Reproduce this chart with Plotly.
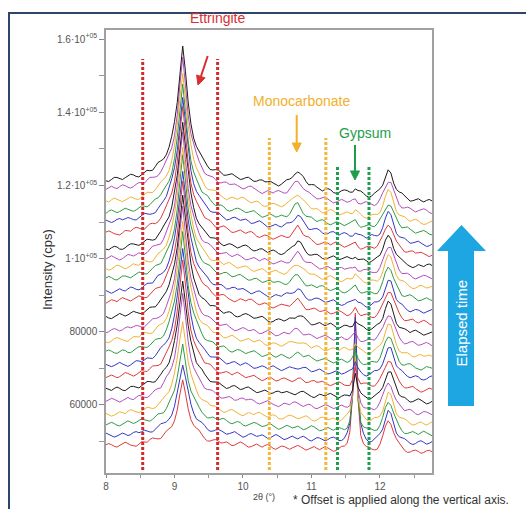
import numpy as np
import plotly.graph_objects as go

# ---------------- data ----------------
X_START, X_STEP, N_PTS = 8.0, 0.04, 120
two_theta = np.round(X_START + X_STEP * np.arange(N_PTS), 3)

# baseline of each pattern at the left edge (bottom = earliest)
BASELINES = [48770, 51510, 54520, 57260, 60820, 63840, 67400, 70410, 73970, 77260,
             80000, 83840, 87950, 90680, 94250, 96990, 99730, 102470, 106580, 109860,
             112330, 115340, 118900, 121370]
# absolute top of the ettringite peak for each pattern
ETT_TOPS = [66300, 71000, 76500, 83000, 90000, 94500, 99000, 103000, 107000, 110500,
            114000, 117500, 121000, 124500, 128000, 131000, 134500, 137500, 141000, 144000,
            147500, 151000, 154500, 157800]
MONO_AMP = [0, 0, 0, 0, 200, 400, 700, 900, 1200, 1400, 1700, 1900, 2200, 2500, 2700, 3000,
            3200, 3400, 3700, 3900, 4100, 4300, 4500, 4700]
GYP_AMP = [37000, 34000, 23000, 18000, 12000, 7000, 4500, 3000, 2500, 2200, 2000, 1800,
           1600, 1500, 1500, 1400, 1300, 1300, 1200, 1200, 1200, 1100, 1100, 1300]
P12_AMP = [8200, 8000, 8300, 8000, 7800, 8100, 7900, 8000, 7700, 7900, 7800, 7600,
           7800, 7500, 7700, 7600, 7400, 7600, 7300, 7500, 7200, 7400, 7100, 7200]
RIGHT_DROP = [1640, 1920, 2470, 2470, 3010, 3010, 3290, 3010, 3840, 4110, 3560, 4380,
              5480, 5210, 5480, 4930, 4930, 4660, 5480, 6030, 5210, 5480, 6030, 5750]

# peak profiles (relative height vs grid step from centre)
ETT_CENTER = 28     # 9.12 deg
ETT_HALF = [1.00, 0.80, 0.58, 0.43, 0.33, 0.26, 0.21, 0.17, 0.14, 0.12, 0.10, 0.085,
            0.073, 0.063, 0.055, 0.048, 0.042, 0.037, 0.033, 0.029, 0.026, 0.023, 0.020,
            0.018, 0.016, 0.014, 0.012, 0.010, 0.008, 0.006, 0.005, 0.004, 0.003, 0.002,
            0.001, 0.0]
MONO_CENTER = 70    # 10.80 deg
MONO_HALF = [1.0, 0.82, 0.55, 0.33, 0.19, 0.11, 0.06, 0.03, 0.01]
GYP_CENTER = 91     # 11.64 deg
GYP_HALF = [1.0, 0.38, 0.12, 0.05, 0.02, 0.01]
P12_START = 97      # 11.88 deg
P12_PROFILE = [0.03, 0.06, 0.12, 0.24, 0.45, 0.75, 0.98, 0.92, 0.62, 0.36, 0.20, 0.11,
               0.06, 0.035, 0.02, 0.01]
DRIFT_TAIL = [-0.01, -0.02, -0.04, -0.05, -0.07, -0.08, -0.10, -0.11, -0.13, -0.14, -0.16,
              -0.17, -0.19, -0.20, -0.22, -0.23, -0.25, -0.26, -0.28, -0.29, -0.31, -0.32,
              -0.34, -0.35, -0.37, -0.38, -0.40, -0.41, -0.43, -0.44, -0.46, -0.47, -0.49,
              -0.50, -0.52, -0.53, -0.55, -0.56, -0.58, -0.59, -0.61, -0.62, -0.64, -0.65,
              -0.67, -0.68, -0.70, -0.71, -0.73, -0.74, -0.76, -0.77, -0.79, -0.80, -0.82,
              -0.83, -0.85, -0.86, -0.88, -0.89, -0.91, -0.92, -0.94, -0.95, -0.97, -0.98,
              -0.99, -1.00, -1.00]
NOISE = [0.3, 0.6, 0.2, -0.4, -0.7, -0.2, 0.5, 0.8, 0.3, -0.3,
         -0.6, -0.9, -0.3, 0.4, 0.2, -0.1, 0.6, 0.9, 0.4, -0.2,
         -0.5, 0.1, 0.5, 0.2, -0.6, -0.8, -0.4, 0.3, 0.7, 0.5,
         0.0, -0.4, -0.1, 0.4, 0.8, 0.2, -0.5, -0.9, -0.5, 0.2,
         0.6, 0.3, -0.2, 0.1, 0.5, 0.0, -0.6, -0.3, 0.4, 0.9,
         0.5, -0.1, -0.7, -0.4, 0.2, 0.6, 0.1, -0.3, 0.3, 0.7,
         0.2, -0.5, -0.8, -0.2, 0.4, 0.3, -0.2, -0.6, -0.1, 0.5,
         0.8, 0.4, -0.3, -0.7, -0.3, 0.3, 0.6, 0.0, -0.4, 0.2,
         0.7, 0.3, -0.4, -0.8, -0.5, 0.1, 0.5, 0.2, -0.3, 0.4,
         0.9, 0.4, -0.2, -0.6, -0.2, 0.3, 0.6, 0.1, -0.5, -0.8,
         -0.3, 0.4, 0.7, 0.2, -0.4, -0.1, 0.5, 0.8, 0.3, -0.3,
         -0.7, -0.4, 0.2, 0.5, 0.1, -0.5, -0.2, 0.4, 0.6, 0.1]
NOISE_AMP = 800

LINE_COLORS = ["#e0393b", "#3535c4", "#2f9a45", "#f2b233", "#b44dbd", "#1a1a1a"]

# phase marker ranges (dotted lines)
RANGE_X = [8.536, 9.63, 10.385, 11.21, 11.38, 11.84]
RANGE_TOP = [154570, 154570, 132980, 132980, 125320, 125320]
RANGE_BOTTOM = 42220
RANGE_COLORS = ["#d42a2a", "#d42a2a", "#f4b63a", "#f4b63a", "#1f9e4f", "#1f9e4f"]

Y_TICKS = [60000, 80000, 100000, 120000, 140000, 160000]
Y_TICKTEXT = ["60000", "80000", "1·10<sup>+05</sup>", "1.2·10<sup>+05</sup>",
              "1.4·10<sup>+05</sup>", "1.6·10<sup>+05</sup>"]
X_TICKS = [8, 9, 10, 11, 12]


def place(center, half, n):
    arr = np.zeros(n)
    for j, v in enumerate(half):
        if 0 <= center + j < n:
            arr[center + j] = v
        if j and 0 <= center - j < n:
            arr[center - j] = v
    return arr


ett = place(ETT_CENTER, ETT_HALF, N_PTS)
mono = place(MONO_CENTER, MONO_HALF, N_PTS)
gyp = place(GYP_CENTER, GYP_HALF, N_PTS)
p12 = np.zeros(N_PTS)
p12[P12_START:P12_START + len(P12_PROFILE)] = P12_PROFILE
drift = np.zeros(N_PTS)
drift[N_PTS - len(DRIFT_TAIL):] = DRIFT_TAIL
noise = np.array(NOISE)

fig = go.Figure()
for i, base in enumerate(BASELINES):
    h = ETT_TOPS[i] - base
    y = (base + h * ett + MONO_AMP[i] * mono + GYP_AMP[i] * gyp + P12_AMP[i] * p12
         + RIGHT_DROP[i] * drift + NOISE_AMP * np.roll(noise, 13 * i))
    fig.add_trace(go.Scatter(x=two_theta, y=y, mode="lines",
                             line=dict(color=LINE_COLORS[i % 6], width=1),
                             hoverinfo="skip", showlegend=False))

for xv, top, col in zip(RANGE_X, RANGE_TOP, RANGE_COLORS):
    fig.add_trace(go.Scatter(x=[xv, xv], y=[RANGE_BOTTOM, top], mode="lines",
                             line=dict(color=col, width=3, dash="3px,2px"),
                             hoverinfo="skip", showlegend=False))

axis_common = dict(showline=True, linecolor="#a0a0a0", linewidth=1.5, mirror=True,
                   showgrid=False, zeroline=False, ticks="outside",
                   tickcolor="#888", tickfont=dict(size=10, color="#555",
                                                   family="Liberation Sans, Arial"))
fig.update_xaxes(range=[8, 12.76], tickmode="array", tickvals=X_TICKS, ticklen=3,
                 minor=dict(tickmode="linear", tick0=0, dtick=0.5, ticks="outside",
                            ticklen=3, tickcolor="#999"), **axis_common)
fig.update_yaxes(range=[41400, 162500], tickmode="array", tickvals=Y_TICKS,
                 ticktext=Y_TICKTEXT, ticklen=5,
                 minor=dict(tickmode="linear", tick0=0, dtick=10000, ticks="outside",
                            ticklen=5, tickcolor="#999"), **axis_common)

PX0, PY0, PW, PH = 106, 473, 326, 443


def px(xp):
    return (xp - PX0) / PW


def py(yp):
    return (PY0 - yp) / PH


font = "Liberation Sans, Arial, sans-serif"


def label(text, x, y, size, color, angle=0, xanchor="center"):
    return dict(text=text, x=px(x), y=py(y), xref="paper", yref="paper",
                xanchor=xanchor, yanchor="middle", textangle=angle, showarrow=False,
                borderpad=0, font=dict(size=size, color=color, family=font))


annotations = [
    label("Ettringite", 217, 18, 14, "#d83030"),
    label("Monocarbonate", 301.7, 100.7, 14, "#f3b02a"),
    label("Gypsum", 365, 132.7, 14, "#1e9e4a"),
    label("Intensity (cps)", 47, 270, 13, "#333", angle=-90),
    label("2θ (°)", 264, 497, 9, "#444"),
    label("* Offset is applied along the vertical axis.", 291.5, 500, 12, "#333",
          xanchor="left"),
    label("Elapsed time", 461.5, 323, 15, "white", angle=-90),
]


def poly(points):
    return "M " + " L ".join(f"{px(a):.5f},{py(b):.5f}" for a, b in points) + " Z"


def arrow(tail, base, tip, c1, c2, color):
    return [
        dict(type="line", xref="paper", yref="paper", x0=px(tail[0]), y0=py(tail[1]),
             x1=px(base[0]), y1=py(base[1]), line=dict(color=color, width=2)),
        dict(type="path", xref="paper", yref="paper", path=poly([c1, tip, c2]),
             fillcolor=color, line=dict(color=color, width=1)),
    ]


shapes = [
    dict(type="path", xref="paper", yref="paper",
         path=poly([(448, 406), (474, 406), (474, 251), (486, 251), (461.5, 225),
                    (437, 251), (448, 251)]),
         fillcolor="#1ea6e3", line=dict(width=0)),
    dict(type="rect", xref="paper", yref="paper", x0=px(9), x1=px(560), y0=py(13),
         y1=py(540), line=dict(color="#2d4569", width=2), fillcolor="rgba(0,0,0,0)"),
]
shapes += arrow((207.7, 56), (200.9, 76.5), (198, 85), (205.1, 77.9), (196.6, 75.0), "#d83030")
shapes += arrow((296.7, 115), (296.7, 143), (296.7, 152), (292.2, 143), (301.2, 143), "#f3b02a")
shapes += arrow((355, 145), (355, 171), (355, 180), (350.5, 171), (359.5, 171), "#1e9e4a")

fig.update_layout(width=526, height=509, margin=dict(l=106, r=94, t=30, b=36),
                  paper_bgcolor="white", plot_bgcolor="white",
                  annotations=annotations, shapes=shapes, showlegend=False)

fig.write_html("out.html", config={"displayModeBar": False},
               post_script="document.body.style.margin='0px';"
                           "document.body.style.overflow='hidden';")
